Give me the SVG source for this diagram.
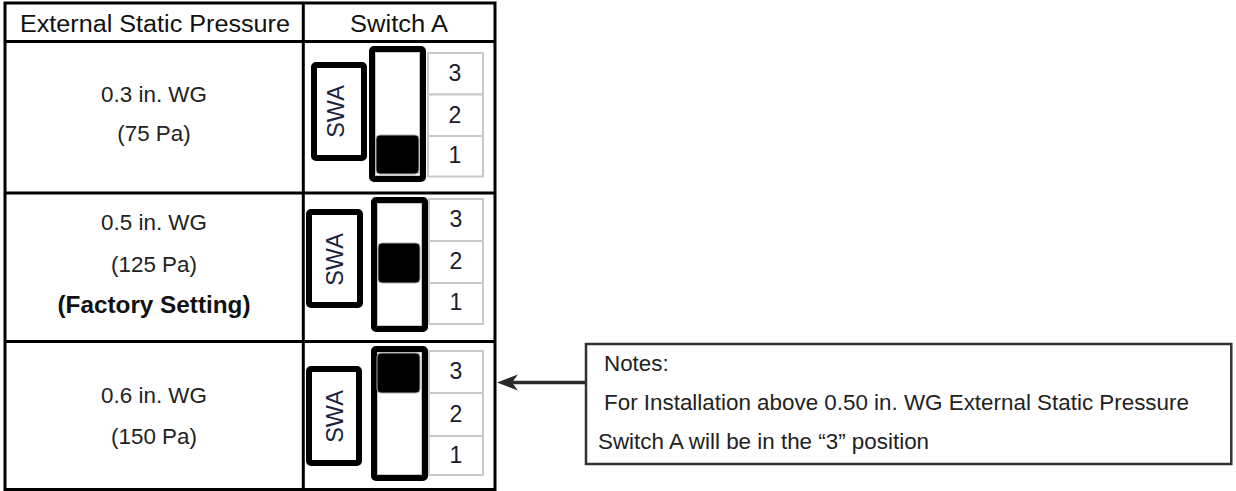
<svg xmlns="http://www.w3.org/2000/svg" width="1236" height="491" viewBox="0 0 1236 491">
<style>
.grid{stroke:#000;stroke-width:3;fill:none}
.t{font-family:"Liberation Sans",Arial,sans-serif;font-size:22.4px;fill:#222;text-anchor:middle}
.hd{font-family:"Liberation Sans",Arial,sans-serif;font-size:23.5px;fill:#111;text-anchor:middle}
.fs{font-family:"Liberation Sans",Arial,sans-serif;font-size:23px;font-weight:bold;fill:#111;text-anchor:middle}
.swa{fill:#fff;stroke:#000;stroke-width:6;rx:2}
.swat{font-family:"Liberation Sans",Arial,sans-serif;font-size:23.5px;fill:#1b2240;text-anchor:middle}
.sl{fill:#fff;stroke:#000;stroke-width:6;rx:2}
.sli{fill:none;stroke:#c8c8c8;stroke-width:1}
.kn{fill:#000;stroke:#aaa;stroke-width:1;rx:4}
.cell{fill:#fff;stroke:#c8c8c8;stroke-width:2}
.num{font-family:"Liberation Sans",Arial,sans-serif;font-size:23px;fill:#1a1a2a;text-anchor:middle}
.nt{font-family:"Liberation Sans",Arial,sans-serif;font-size:22.4px;fill:#222}
</style>
<rect width="1236" height="491" fill="#fff"/>
<g id="table">
<rect class="grid" x="5" y="3" width="490" height="486.5"/>
<line class="grid" x1="5" y1="41.5" x2="495" y2="41.5"/>
<line class="grid" x1="5" y1="193" x2="495" y2="193"/>
<line class="grid" x1="5" y1="341.5" x2="495" y2="341.5"/>
<line class="grid" x1="303.3" y1="3" x2="303.3" y2="489.5"/>
<text class="hd" x="155" y="31.5" textLength="270" lengthAdjust="spacingAndGlyphs">External Static Pressure</text>
<text class="hd" x="399" y="31.5" textLength="98" lengthAdjust="spacingAndGlyphs">Switch A</text>
</g>
<g id="row1">
<text class="t" x="154" y="102">0.3 in. WG</text>
<text class="t" x="154" y="141">(75 Pa)</text>
<rect class="swa" x="314" y="65" width="50" height="93"/>
<text class="swat" transform="translate(344,111.5) rotate(-90)">SWA</text>
<rect class="sl" x="372" y="49" width="51" height="130"/>
<rect class="sli" x="375.5" y="52.5" width="44" height="123"/>
<rect class="kn" x="376" y="135" width="43" height="39"/>
<rect class="cell" x="428" y="53" width="55" height="41.5"/>
<rect class="cell" x="428" y="94.5" width="55" height="41.5"/>
<rect class="cell" x="428" y="136" width="55" height="40.5"/>
<text class="num" x="455" y="81">3</text>
<text class="num" x="455" y="122.5">2</text>
<text class="num" x="455" y="163">1</text>
</g>
<g id="row2">
<text class="t" x="154" y="230">0.5 in. WG</text>
<text class="t" x="154" y="272">(125 Pa)</text>
<text class="fs" x="154" y="313" textLength="193" lengthAdjust="spacingAndGlyphs">(Factory Setting)</text>
<rect class="swa" x="309" y="212" width="51" height="93"/>
<text class="swat" transform="translate(343,259.5) rotate(-90)">SWA</text>
<rect class="sl" x="374" y="200" width="51" height="129"/>
<rect class="sli" x="377.5" y="203.5" width="44" height="122"/>
<rect class="kn" x="378" y="243" width="42" height="40"/>
<rect class="cell" x="429" y="199" width="54" height="42"/>
<rect class="cell" x="429" y="241" width="54" height="42"/>
<rect class="cell" x="429" y="283" width="54" height="41"/>
<text class="num" x="456" y="227">3</text>
<text class="num" x="456" y="269">2</text>
<text class="num" x="456" y="310">1</text>
</g>
<g id="row3">
<text class="t" x="154" y="403">0.6 in. WG</text>
<text class="t" x="154" y="444">(150 Pa)</text>
<rect class="swa" x="309" y="369" width="50" height="94"/>
<text class="swat" transform="translate(343,416.5) rotate(-90)">SWA</text>
<rect class="sl" x="374" y="349" width="51" height="129"/>
<rect class="sli" x="377.5" y="352.5" width="44" height="122"/>
<rect class="kn" x="377" y="353" width="43" height="40"/>
<rect class="cell" x="429" y="351" width="54" height="42"/>
<rect class="cell" x="429" y="393" width="54" height="43"/>
<rect class="cell" x="429" y="436" width="54" height="39"/>
<text class="num" x="456" y="379">3</text>
<text class="num" x="456" y="422">2</text>
<text class="num" x="456" y="463">1</text>
</g>
<g id="connectors">
<line x1="586" y1="382.5" x2="510" y2="382.5" stroke="#2a2a2a" stroke-width="3.5"/>
<polygon points="497,382.5 518,374.5 512,382.5 518,390.5" fill="#2a2a2a"/>
</g>
<g id="notes">
<rect x="586" y="344" width="645.3" height="120" fill="#fff" stroke="#333" stroke-width="2.5"/>
<text class="nt" x="604" y="371">Notes:</text>
<text class="nt" x="604" y="410">For Installation above 0.50 in. WG External Static Pressure</text>
<text class="nt" x="598" y="449">Switch A will be in the “3” position</text>
</g>
</svg>
